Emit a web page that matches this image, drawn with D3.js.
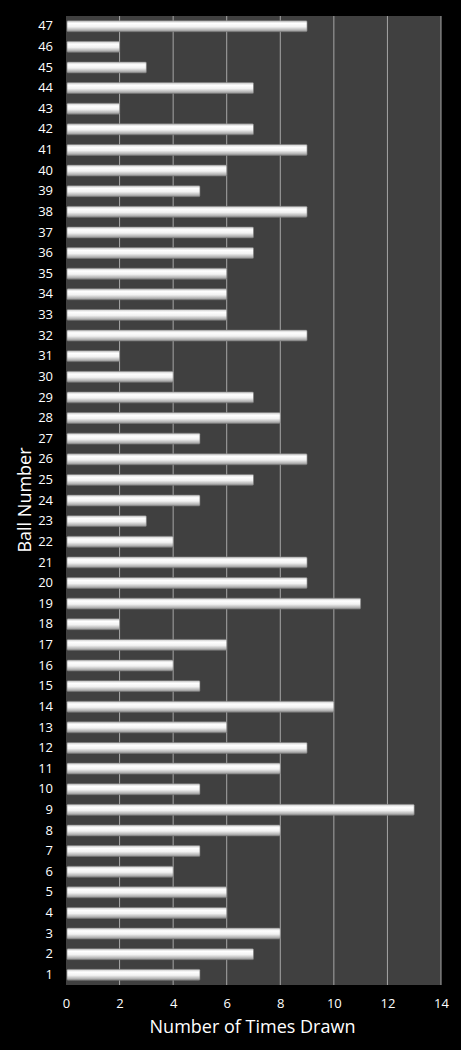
<!DOCTYPE html>
<html>
<head>
<meta charset="utf-8">
<script src="https://cdn.jsdelivr.net/npm/d3@7"></script>
<style>
  body { margin: 0; background: #000; }
  svg { display: block; }
</style>
</head>
<body>
<div id="chart"></div>
<script>
const balls = d3.range(1, 48);
const timesDrawn = [5, 7, 8, 6, 6, 4, 5, 8, 13, 5,
                    8, 9, 6, 10, 5, 4, 6, 2, 11, 9,
                    9, 4, 3, 5, 7, 9, 5, 8, 7, 4,
                    2, 9, 6, 6, 6, 7, 7, 9, 5, 6,
                    9, 7, 2, 7, 3, 2, 9];
const xTicks = [0, 2, 4, 6, 8, 10, 12, 14];

const data = balls.map((b, i) => ({ball: b, value: timesDrawn[i]}));

const totalW = 461, totalH = 1050;
const margin = {top: 16, right: 20, bottom: 65, left: 66};
const width = totalW - margin.left - margin.right;
const height = totalH - margin.top - margin.bottom;

const svg = d3.select('#chart').append('svg')
    .attr('width', totalW)
    .attr('height', totalH)
    .style('font-family', '"Open Sans", sans-serif');

svg.append('rect')
    .attr('width', totalW).attr('height', totalH)
    .attr('fill', '#000');

// bar gradient - cylinder look
const defs = svg.append('defs');
const grad = defs.append('linearGradient')
    .attr('id', 'barGrad')
    .attr('x1', 0).attr('y1', 0).attr('x2', 0).attr('y2', 1);
grad.append('stop').attr('offset', '0%').attr('stop-color', '#c8c8c8');
grad.append('stop').attr('offset', '25%').attr('stop-color', '#ffffff');
grad.append('stop').attr('offset', '55%').attr('stop-color', '#f2f2f2');
grad.append('stop').attr('offset', '85%').attr('stop-color', '#b4b4b4');
grad.append('stop').attr('offset', '100%').attr('stop-color', '#8a8a8a');

const g = svg.append('g')
    .attr('transform', `translate(${margin.left},${margin.top})`);

const x = d3.scaleLinear().domain([0, 14]).range([0, width]);
const y = d3.scaleBand()
    .domain(balls.slice().reverse())
    .range([0, height])
    .paddingInner(0.47)
    .paddingOuter(0.23);

g.append('rect')
    .attr('width', width).attr('height', height)
    .attr('fill', '#404040');

// vertical gridlines
g.selectAll('.grid')
    .data(xTicks.slice(1))
    .enter().append('line')
    .attr('x1', d => x(d)).attr('x2', d => x(d))
    .attr('y1', 0).attr('y2', height)
    .attr('stroke', '#a6a6a6')
    .attr('stroke-width', 1);

g.selectAll('.bar')
    .data(data)
    .enter().append('rect')
    .attr('class', 'bar')
    .attr('x', 1)
    .attr('y', d => y(d.ball))
    .attr('width', d => x(d.value) - 1)
    .attr('height', y.bandwidth())
    .attr('rx', 1)
    .attr('fill', 'url(#barGrad)')
    .attr('stroke', '#7a7a7a')
    .attr('stroke-width', 0.6);

// x axis
const xAxis = g.append('g')
    .attr('transform', `translate(0,${height})`)
    .call(d3.axisBottom(x).tickValues(xTicks).tickSize(0).tickPadding(14));
xAxis.select('.domain').remove();
xAxis.selectAll('text')
    .attr('fill', '#fff')
    .style('font-size', '13px')
    .style('font-family', '"Open Sans", sans-serif');

// y axis
const yAxis = g.append('g')
    .call(d3.axisLeft(y).tickSize(0).tickPadding(13));
yAxis.select('.domain').remove();
yAxis.selectAll('text')
    .attr('fill', '#fff')
    .style('font-size', '13px')
    .style('font-family', '"Open Sans", sans-serif');

// X Axis Label
svg.append('text')
    .attr('text-anchor', 'middle')
    .attr('x', margin.left + width / 2 - 1)
    .attr('y', 1033)
    .attr('fill', '#fff')
    .style('font-size', '18px')
    .text('Number of Times Drawn');

// Y Axis Label
svg.append('text')
    .attr('text-anchor', 'middle')
    .attr('transform', 'rotate(-90)')
    .attr('x', -500)
    .attr('y', 31)
    .attr('fill', '#fff')
    .style('font-size', '18px')
    .text('Ball Number');
</script>
</body>
</html>
